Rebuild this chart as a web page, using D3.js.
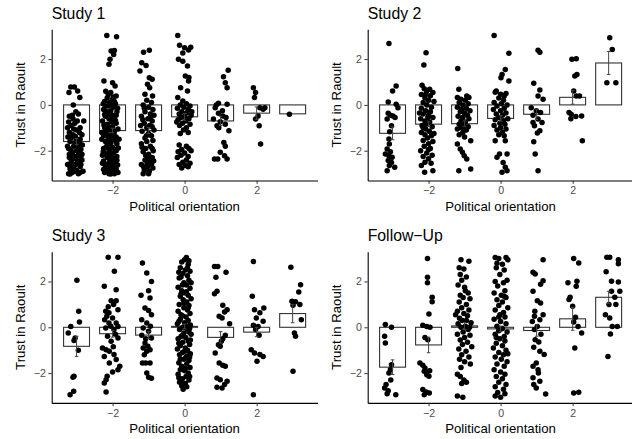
<!DOCTYPE html>
<html><head><meta charset="utf-8">
<script src="https://cdn.jsdelivr.net/npm/d3@7"></script>
<style>body{margin:0;background:#fff}svg{display:block}</style>
</head><body>
<svg id="chart" width="632" height="439"></svg>
<script>
// ---------- DATA ----------
const categories = [-3, -2, -1, 0, 1, 2, 3];
const panelTitles = ["Study 1", "Study 2", "Study 3", "Follow\u2212Up"];
const xTickValues = [-2, 0, 2];
const yTickValues = [-2, 0, 2];
const xAxisTitle = "Political orientation";
const yAxisTitle = "Trust in Raoult";

const study1Means = [-1.6, -1.12, -1.12, -0.52, -0.7, -0.36, -0.39];
const study1SE    = [0.13, 0.1, 0.13, 0.15, 0.2, 0.27, 0];
const study2Means = [-1.24, -0.84, -0.82, -0.59, -0.41, 0.33, 1.83];
const study2SE    = [0.28, 0.1, 0.12, 0.12, 0.22, 0.3, 0.5];
const study3Means = [-0.83, -0.28, -0.34, 0.04, -0.44, -0.21, 0.6];
const study3SE    = [0.44, 0.15, 0.15, 0.1, 0.25, 0.2, 0.4];
const followMeans = [-1.74, -0.77, 0.06, -0.07, -0.14, 0.37, 1.31];
const followSE    = [0.32, 0.34, 0.15, 0.12, 0.25, 0.5, 0.26];

// jittered points: [x (jittered), trust]
const study1Points = [
 [-3.16,0.78],[-3.06,0.78],[-3.21,0.54],[-2.97,0.61],[-2.91,0.32],[-3.09,0.0],
 [-3.2,-0.5],[-3.1,-0.6],[-2.95,-0.4],[-3.05,-0.8],[-3.15,-0.9],[-2.9,-1.0],[-3.0,-1.1],[-3.2,-1.2],[-3.1,-1.3],[-2.85,-1.3],[-3.0,-1.5],[-3.18,-1.6],[-2.92,-1.7],[-3.08,-1.8],[-3.22,-1.9],[-2.88,-1.95],[-3.0,-2.0],[-3.12,-2.1],[-2.95,-2.2],[-3.2,-2.3],[-3.05,-2.35],[-2.85,-2.4],[-3.15,-2.5],[-2.98,-2.55],[-3.25,-2.6],[-3.08,-2.7],[-2.9,-2.7],[-3.18,-2.8],[-3.0,-2.85],[-2.82,-2.9],[-3.12,-2.95],[-3.22,-3.0],[-2.95,-3.0],[-3.05,-2.9],[-2.88,-2.6],[-3.1,-2.2],[-2.9,-1.5],[-3.25,-1.0],[-2.8,-0.7],[-3.02,-0.3],[-3.15,-1.45],[-2.97,-2.45],[-3.2,-2.15],[-3.05,-1.65],[-2.85,-2.15],
 [-3.12,-0.45],[-2.98,-0.7],[-3.22,-0.75],[-2.92,-1.2],[-3.08,-1.05],[-3.24,-1.4],[-2.95,-1.85],[-3.15,-2.0],[-2.88,-2.25],[-3.02,-2.6],[-3.2,-2.65],[-2.9,-2.95],[-3.1,-2.85],[-3.0,-2.25],[-3.14,-2.4],[-2.84,-1.75],[-3.25,-1.8],[-3.03,-1.38],[-2.94,-2.05],[-3.18,-3.02],
 [-2.16,3.03],[-1.89,2.97],[-2.04,2.35],[-1.95,2.38],[-2.07,1.99],[-1.97,2.2],[-2.1,1.77],[-2.24,1.04],[-2.0,0.97],[-1.93,0.83],[-2.19,0.6],[-2.05,0.54],[-1.9,0.39],
 [-2.15,0.3],[-2.0,0.25],[-2.22,0.15],[-2.08,0.1],[-1.92,0.05],[-2.12,-0.05],[-1.98,-0.1],[-2.25,-0.2],[-2.05,-0.25],[-1.88,-0.3],[-2.15,-0.35],[-2.0,-0.45],[-2.2,-0.5],[-1.95,-0.55],[-2.1,-0.6],[-2.28,-0.7],[-2.03,-0.75],[-1.9,-0.8],[-2.15,-0.85],[-2.0,-0.95],[-2.22,-1.0],[-1.85,-1.05],[-2.08,-1.1],[-1.95,-1.15],[-2.18,-1.2],[-2.02,-1.3],[-2.25,-1.35],[-1.9,-1.4],[-2.12,-1.45],[-1.98,-1.5],[-2.2,-1.6],[-2.05,-1.65],[-1.88,-1.7],[-2.15,-1.75],[-2.0,-1.85],[-2.25,-1.9],[-1.93,-1.95],[-2.1,-2.0],[-1.98,-2.1],[-2.2,-2.15],[-2.05,-2.2],[-1.88,-2.25],[-2.15,-2.3],[-2.0,-2.4],[-2.25,-2.45],[-1.92,-2.5],[-2.1,-2.55],[-1.97,-2.6],[-2.2,-2.7],[-2.05,-2.75],[-1.9,-2.8],[-2.15,-2.85],[-2.0,-2.9],[-2.22,-2.95],[-2.1,-3.0],[-1.95,-3.0],[-1.85,-2.95],[-2.3,-1.2],[-2.28,-2.2],[-1.82,-1.5],[-2.08,-0.4],[-1.95,0.15],[-2.12,-1.55],[-2.03,-2.45],[-1.9,-2.0],[-2.18,-2.6],
 [-2.12,0.45],[-1.98,0.35],[-2.26,0.05],[-1.86,-0.15],[-2.18,-0.28],[-2.06,-0.62],[-1.92,-0.68],[-2.24,-0.88],[-2.1,-0.98],[-1.96,-1.25],[-2.14,-1.32],[-2.3,-1.5],[-2.04,-1.52],[-1.9,-1.62],[-2.18,-1.85],[-2.08,-1.92],[-1.84,-1.88],[-2.26,-2.05],[-2.12,-2.12],[-1.94,-2.32],[-2.08,-2.38],[-2.28,-2.55],[-2.02,-2.65],[-1.86,-2.62],[-2.14,-2.75],[-1.96,-2.85],[-2.25,-2.82],[-2.05,-3.02],[-2.2,-0.05],[-1.9,-0.45],[-2.0,-1.05],[-2.16,-1.08],[-1.88,-2.42],[-2.1,-1.7],[-2.22,-0.42],[-2.0,0.05],
 [-0.98,2.39],[-1.14,2.3],[-1.19,1.84],[-1.07,1.72],[-1.24,1.48],[-0.98,1.19],[-0.9,1.12],[-1.03,0.9],[-0.97,0.75],[-1.1,0.46],[-0.89,0.39],
 [-1.05,0.2],[-0.92,0.1],[-1.15,0.0],[-1.0,-0.1],[-0.88,-0.2],[-1.1,-0.3],[-0.95,-0.4],[-1.2,-0.5],[-1.02,-0.6],[-0.9,-0.7],[-1.12,-0.8],[-0.97,-0.9],[-1.05,-1.0],[-0.85,-1.1],[-1.18,-1.15],[-1.0,-1.25],[-0.92,-1.35],[-1.1,-1.45],[-0.88,-1.55],[-1.05,-1.6],[-1.2,-1.7],[-0.95,-1.8],[-1.08,-1.9],[-0.87,-2.0],[-1.15,-2.05],[-1.0,-2.15],[-0.9,-2.3],[-1.1,-2.4],[-0.95,-2.5],[-1.2,-2.6],[-1.03,-2.7],[-0.88,-2.75],[-1.12,-2.85],[-0.98,-2.9],[-1.15,-3.0],[-0.92,-2.6],[-1.22,-0.9],[-0.85,-0.45],[-1.08,-2.2],
 [-1.12,-0.15],[-0.95,-0.6],[-1.06,-1.35],[-0.9,-1.9],[-1.18,-1.85],[-1.02,-2.35],[-0.86,-2.45],[-1.14,-2.7],[-1.0,-3.0],[-0.9,-0.95],[-1.16,-0.65],[-1.04,-2.55],
 [-0.19,3.03],[-0.14,2.6],[0.0,2.5],[0.11,2.4],[-0.05,2.27],[0.17,2.52],[-0.17,1.99],[-0.05,1.91],[0.08,1.7],[0.02,1.26],[0.12,1.2],[0.11,1.04],[-0.11,0.75],[0.08,0.61],[-0.19,0.32],[-0.05,0.17],
 [0.05,0.05],[-0.12,0.0],[0.15,-0.05],[-0.02,-0.1],[-0.2,-0.15],[0.1,-0.2],[-0.08,-0.3],[0.05,-0.35],[-0.15,-0.4],[0.18,-0.45],[0.0,-0.5],[-0.1,-0.55],[0.12,-0.6],[-0.18,-0.65],[0.03,-0.7],[-0.06,-0.8],[0.15,-0.85],[-0.14,-0.9],[0.05,-1.0],[-0.03,-1.1],[0.1,-1.2],[-0.12,-1.25],[0.2,-0.3],[-0.22,-0.75],
 [-0.15,-1.75],[0.05,-1.8],[0.12,-1.9],[-0.08,-1.95],[0.18,-2.0],[-0.18,-2.05],[0.0,-2.1],[-0.1,-2.2],[0.1,-2.25],[-0.2,-2.3],[0.05,-2.4],[-0.05,-2.5],[0.15,-2.55],[-0.15,-2.6],[0.02,-2.65],[-0.08,-2.75],[0.1,-2.7],
 [1.21,1.51],[1.08,1.23],[1.13,0.97],[1.18,0.75],[0.94,0.07],[1.18,0.03],[0.85,-0.12],[0.94,-0.36],[1.06,-0.48],[0.8,-0.62],[0.99,-0.74],[1.13,-0.84],[0.9,-0.91],[1.23,-1.13],[1.09,-1.64],[1.13,-1.81],[0.83,-2.36],[0.92,-2.36],[1.11,-2.22],[1.18,-2.36],[0.99,-2.07],[0.88,0.0],[1.05,-0.25],[1.15,-0.55],[0.95,-1.0],
 [1.91,0.75],[1.97,0.54],[1.94,0.32],[2.09,-0.12],[2.18,-0.19],[2.23,-0.12],[2.04,-0.48],[1.97,-0.62],[2.07,-0.91],[2.11,-1.71],
 [2.91,-0.41]
];
const study2Points = [
 [-3.1,2.68],[-2.9,0.83],[-3.0,0.61],[-3.12,0.13],[-2.9,0.03],[-2.85,-0.12],[-3.12,-0.36],[-3.06,-0.45],[-2.99,-0.48],[-2.93,-0.55],[-3.15,-0.62],[-3.03,-0.91],[-3.08,-1.17],[-3.1,-1.49],[-3.09,-1.71],[-3.15,-1.93],[-3.06,-2.04],[-3.2,-2.14],[-3.1,-2.22],[-3.01,-2.29],[-3.12,-2.43],[-3.03,-2.51],[-3.09,-2.65],[-3.15,-2.87],[-2.94,-2.72],
 [-2.07,2.28],[-2.13,1.74],[-2.18,0.86],[-1.97,0.68],[-1.88,0.54],
 [-2.12,0.7],[-2.05,0.6],[-2.2,0.45],[-1.95,0.4],[-2.1,0.3],[-2.0,0.2],[-1.85,0.15],[-2.15,0.1],[-2.05,0.0],[-1.92,-0.1],[-2.2,-0.15],[-2.08,-0.25],[-1.95,-0.3],[-2.15,-0.4],[-2.0,-0.45],[-1.88,-0.55],[-2.22,-0.6],[-2.1,-0.7],[-1.97,-0.75],[-2.05,-0.85],[-2.18,-0.9],[-1.9,-0.95],[-2.08,-1.05],[-1.98,-1.15],[-2.2,-1.2],[-2.1,-1.3],[-1.92,-1.35],[-2.03,-1.45],[-2.15,-1.55],[-1.88,-1.6],[-2.0,-1.7],[-2.12,-1.8],[-1.95,-1.9],[-2.22,-2.0],[-2.05,-2.1],[-1.9,-2.2],[-2.15,-2.25],[-2.0,-2.35],[-2.1,-2.5],[-1.93,-2.55],[-2.2,-2.65],[-2.11,-2.94],[-1.88,-2.87],[-2.02,-0.55],[-2.15,-1.0],[-1.85,-1.25],[-2.25,-0.35],[-2.0,-1.95],[-2.08,0.45],
 [-1.19,1.59],[-1.16,0.68],[-0.94,0.39],[-0.88,0.32],[-1.2,0.32],
 [-1.1,0.25],[-0.98,0.2],[-1.15,0.1],[-0.9,0.05],[-1.05,0.0],[-1.2,-0.1],[-0.95,-0.15],[-1.08,-0.2],[-0.85,-0.25],[-1.12,-0.3],[-1.0,-0.35],[-0.92,-0.45],[-1.18,-0.5],[-1.05,-0.55],[-0.88,-0.6],[-1.1,-0.7],[-0.98,-0.75],[-1.15,-0.85],[-1.02,-0.9],[-0.9,-0.95],[-1.08,-1.0],[-1.2,-1.05],[-0.95,-1.1],[-1.05,-1.2],[-1.15,-1.3],[-1.0,-1.4],
 [-0.83,-1.57],[-1.2,-1.71],[-1.12,-1.93],[-1.06,-2.07],[-1.01,-2.22],[-0.94,-2.36],[-1.16,-2.87],[-0.83,-2.8],
 [-0.18,3.03],[0.23,2.25],[0.13,1.55],[0.04,1.33],[0.01,1.19],[0.23,1.04],[-0.12,0.61],[0.0,0.46],[0.1,0.39],
 [-0.15,0.55],[0.15,0.5],[-0.05,0.3],[0.08,0.2],[-0.18,0.1],[0.02,0.05],[0.18,0.0],[-0.1,-0.05],[0.1,-0.15],[-0.2,-0.2],[0.0,-0.25],[0.15,-0.35],[-0.12,-0.4],[0.05,-0.45],[-0.05,-0.55],[0.2,-0.6],[-0.15,-0.65],[0.08,-0.7],[-0.02,-0.8],[0.12,-0.85],[-0.18,-0.9],[0.0,-1.0],[0.15,-1.05],[-0.1,-1.1],[0.05,-1.2],[-0.05,-1.3],[0.1,-1.35],
 [-0.15,-1.57],[0.13,-1.57],[-0.03,-2.14],[-0.1,-2.29],[0.18,-2.14],[0.07,-2.51],[0.13,-2.72],[0.04,-2.94],[0.18,-2.87],
 [1.04,2.39],[1.09,2.3],[0.92,0.94],[1.09,0.65],[1.04,0.39],[1.18,0.25],[0.85,-0.12],[0.99,-0.26],[1.11,-0.33],[0.9,-0.45],[1.04,-0.62],[1.15,-0.77],[0.94,-0.91],[1.09,-1.13],[1.02,-1.23],[0.9,-0.77],[0.92,-1.61],[0.96,-2.14],[1.04,-2.87],
 [1.98,1.99],[2.1,2.01],[2.06,1.26],[2.12,1.33],[2.03,0.61],[2.1,0.39],[2.19,0.39],[1.9,-0.33],[1.96,-0.41],[2.09,-0.51],[2.25,-0.48],[2.27,-1.57],[1.95,-0.6],
 [3.03,2.93],[3.1,2.42],[2.95,0.97],[3.2,0.97]
];
const study3Points = [
 [-2.99,2.05],[-2.94,0.7],[-2.92,0.23],[-3.16,0.04],[-3.23,-0.25],[-3.04,-0.47],[-3.07,-0.58],[-2.95,-1.0],[-3.07,-2.14],[-3.1,-2.18],[-3.08,-2.79],[-3.18,-2.94],
 [-2.12,3.06],[-1.85,3.06],[-1.95,2.45],[-2.23,1.79],[-1.9,1.64],[-2.04,1.16],[-1.9,1.16],[-1.97,0.99],[-1.85,0.77],[-2.19,0.7],[-2.1,0.63],[-2.16,0.48],[-2.0,0.41],[-2.22,0.33],[-2.1,0.19],[-1.9,0.19],[-1.85,0.04],[-2.19,-0.03],[-1.96,-0.1],[-2.14,-0.39],[-1.85,-0.47],[-2.04,-0.61],[-2.28,-0.9],[-2.18,-0.98],[-2.09,-1.05],[-2.23,-1.27],[-1.96,-1.19],[-1.9,-1.41],[-2.09,-1.56],[-1.8,-1.7],[-1.85,-1.85],[-2.15,-2.14],[-2.18,-2.29],[-2.23,-2.43],[-2.18,-2.82],[-2.05,0.05],[-1.92,-0.3],[-2.12,0.9],[-1.98,-0.85],[-2.0,-1.95],
 [-1.17,2.81],[-1.05,2.37],[-0.92,2.0],[-1.0,1.6],[-1.21,1.4],[-0.96,1.28],[-1.1,0.84],[-1.0,0.73],[-0.92,0.55],[-1.19,0.33],[-1.05,0.19],[-1.15,-0.03],[-1.0,-0.17],[-1.19,-0.35],[-0.92,-0.47],[-1.1,-0.68],[-1.02,-0.83],[-1.15,-0.9],[-0.96,-0.98],[-1.05,-1.05],[-1.17,-1.56],[-1.08,-1.56],[-0.96,-1.56],[-1.05,-2.0],[-1.0,-2.18],[-0.92,-2.22],[-1.08,-0.5],[-0.95,0.05],[-1.12,-1.2],
 [0.05,3.05],[0.0,2.95],[-0.08,2.85],[0.1,2.75],[-0.12,2.6],[0.02,2.5],[0.15,2.45],[-0.05,2.35],[0.08,2.25],[-0.15,2.15],[0.12,2.05],[-0.02,1.95],[0.05,1.85],[-0.18,1.75],[0.15,1.7],[-0.08,1.6],[0.02,1.5],[0.1,1.4],[-0.12,1.35],[0.18,1.25],[-0.04,1.2],[0.06,1.1],[-0.15,1.0],[0.12,0.95],[-0.02,0.85],[0.08,0.75],[-0.18,0.7],[0.15,0.6],[-0.06,0.5],[0.04,0.45],[-0.12,0.35],[0.1,0.3],[0.0,0.2],[-0.2,0.15],[0.16,0.1],[-0.05,0.0],[0.06,-0.05],[-0.14,-0.1],[0.12,-0.2],[-0.02,-0.25],[0.18,-0.3],[-0.1,-0.4],[0.03,-0.45],[-0.18,-0.5],[0.1,-0.6],[-0.05,-0.65],[0.14,-0.75],[-0.12,-0.8],[0.02,-0.9],[-0.2,-0.95],[0.08,-1.0],[-0.06,-1.1],[0.16,-1.15],[-0.14,-1.2],[0.04,-1.3],[-0.02,-1.4],[0.12,-1.45],[-0.16,-1.55],[0.06,-1.6],[-0.08,-1.7],[0.15,-1.75],[-0.12,-1.85],[0.0,-1.9],[0.1,-2.0],[-0.18,-2.05],[0.04,-2.15],[-0.06,-2.25],[0.12,-2.3],[-0.14,-2.4],[0.02,-2.45],[-0.08,-2.55],[-0.04,-2.7],[0.08,-1.25],[-0.1,0.55],[0.05,1.55],[-0.1,2.2],
 [0.12,2.9],[-0.16,2.4],[0.18,1.95],[-0.1,1.45],[0.1,0.85],[-0.16,0.25],[0.14,-0.05],[-0.06,-0.35],[0.16,-0.55],[-0.16,-0.7],[0.0,-1.05],[-0.12,-1.4],[0.14,-1.3],[0.02,-1.8],[-0.16,-2.2],[0.14,-2.15],[0.06,-2.6],[-0.1,-2.35],[0.08,0.05],[-0.02,1.05],[0.08,2.6],[-0.06,1.85],
 [0.83,2.65],[0.92,2.65],[1.15,2.4],[0.87,2.18],[0.9,1.57],[0.83,1.46],[1.06,0.96],[1.18,0.77],[1.11,0.67],[0.96,0.48],[1.04,0.41],[1.25,0.15],[1.13,-0.35],[1.06,-0.5],[1.02,-0.61],[0.94,-0.76],[0.99,-0.83],[0.85,-1.12],[0.96,-1.56],[1.06,-1.66],[1.13,-1.7],[0.9,-2.21],[0.99,-2.29],[1.18,-2.36],[1.11,-2.5],[0.9,-2.62],[1.04,-2.65],
 [1.91,2.87],[1.88,1.35],[1.94,0.77],[2.2,0.84],[2.09,0.63],[1.99,0.41],[2.18,0.26],[1.91,0.09],[2.04,0.04],[1.97,-0.1],[2.07,-0.35],[1.85,-0.98],[1.94,-1.12],[2.09,-1.19],[2.18,-1.27],[2.01,-1.48],[1.91,-2.94],
 [2.95,2.62],[3.22,1.86],[3.17,1.54],[2.98,1.14],[3.08,1.11],[3.01,0.96],[3.24,0.33],[3.05,-0.25],[3.08,-0.39],[3.01,-1.92],[3.2,1.0]
];
const followPoints = [
 [-3.2,0.12],[-3.03,0.0],[-3.22,-0.39],[-3.2,-0.68],[-3.03,-1.63],[-3.06,-1.85],[-3.1,-2.0],[-3.05,-2.3],[-3.18,-2.5],[-3.22,-2.65],[-3.12,-2.77],[-2.91,-2.94],[-3.15,-2.9],
 [-2.03,3.0],[-2.03,2.18],[-2.03,1.94],[-1.9,1.31],[-1.9,1.11],[-1.99,0.58],[-2.16,0.09],[-2.05,0.04],[-1.96,0.0],[-2.1,-0.44],[-2.02,-0.54],[-2.24,-1.56],[-2.16,-1.66],[-2.1,-1.78],[-2.12,-1.92],[-2.05,-2.07],[-1.99,-2.14],[-2.16,-2.72],[-2.07,-2.82],[-1.98,-2.87],[-2.12,-2.94],[-1.97,-1.9],
 [-1.1,2.95],[-0.88,2.88],[-1.15,2.6],[-1.02,2.55],[-1.12,2.3],[-0.95,2.2],[-1.08,2.05],[-1.18,1.85],[-1.0,1.75],[-0.9,1.5],[-1.12,1.4],[-1.04,1.3],[-0.85,1.25],[-1.15,1.1],[-0.95,1.0],[-1.08,0.85],[-0.88,0.75],[-1.2,0.7],[-1.02,0.6],[-0.92,0.5],[-1.14,0.4],[-1.06,0.3],[-0.82,0.2],[-1.18,0.15],[-0.98,0.05],[-1.1,0.0],[-0.9,-0.1],[-1.04,-0.2],[-1.2,-0.3],[-0.85,-0.35],[-1.0,-0.45],[-1.12,-0.55],[-0.92,-0.65],[-1.06,-0.75],[-0.8,-0.85],[-1.16,-0.95],[-0.96,-1.05],[-1.08,-1.2],[-0.88,-1.3],[-1.14,-1.4],[-1.0,-1.5],[-0.84,-1.6],[-1.1,-1.75],[-1.2,-2.05],[-1.12,-2.15],[-1.02,-2.3],[-0.95,-2.4],[-1.08,-2.45],[-1.2,-3.0],[-1.05,-3.05],[-0.95,0.3],[-1.25,0.55],[-0.86,0.0],[-0.98,1.6],
 [-0.15,3.05],[-0.05,3.0],[0.15,3.05],[0.2,2.95],[-0.1,2.8],[0.05,2.75],[-0.12,2.6],[0.1,2.5],[-0.02,2.3],[0.18,2.05],[-0.15,2.0],[0.08,1.95],[-0.08,1.8],[0.12,1.6],[-0.18,1.5],[0.02,1.4],[0.15,1.3],[-0.1,1.2],[0.05,1.1],[-0.05,0.95],[0.2,0.85],[-0.15,0.75],[0.08,0.65],[-0.02,0.55],[0.12,0.45],[-0.18,0.35],[0.0,0.25],[0.15,0.15],[-0.1,0.05],[0.05,-0.05],[-0.05,-0.15],[0.18,-0.2],[-0.15,-0.3],[0.1,-0.4],[-0.02,-0.5],[0.12,-0.6],[-0.12,-0.7],[0.05,-0.8],[-0.2,-0.9],[0.15,-1.0],[-0.05,-1.1],[0.08,-1.2],[-0.15,-1.3],[0.02,-1.4],[0.18,-1.5],[-0.1,-1.6],[0.1,-1.7],[-0.18,-1.85],[0.0,-1.95],[0.12,-2.05],[-0.12,-2.15],[0.05,-2.25],[-0.05,-2.4],[0.15,-2.5],[-0.15,-2.6],[0.08,-2.7],[-0.08,-2.85],[-0.15,-3.0],[0.0,-3.05],[0.12,-2.9],[-0.05,0.45],[0.1,1.35],[-0.12,-0.45],[0.2,-1.15],
 [1.18,2.95],[0.9,2.4],[0.96,2.33],[1.18,2.03],[1.11,1.88],[0.9,1.57],[1.02,1.16],[1.11,1.06],[0.94,0.48],[1.18,0.55],[1.09,0.33],[1.02,0.04],[0.94,-0.1],[0.96,-0.54],[1.06,-0.64],[0.92,-0.87],[1.09,-1.05],[1.21,-1.19],[0.99,-1.56],[0.9,-1.7],[1.04,-1.85],[1.09,-2.36],[0.92,-2.5],[0.99,-2.65],[1.25,-2.91],[0.88,0.25],[1.12,-0.3],[0.95,0.7],[1.05,-2.0],[0.9,-2.2],
 [2.03,3.0],[2.17,2.81],[1.87,1.94],[2.12,2.01],[2.1,1.79],[1.93,1.31],[1.9,1.21],[2.0,0.92],[2.08,0.44],[2.03,0.23],[2.15,0.04],[2.25,-0.25],[2.06,-0.9],[2.03,-2.87],[2.17,-2.83],
 [2.95,3.06],[3.03,3.06],[3.27,2.95],[3.27,2.77],[2.93,2.42],[3.08,2.01],[3.27,1.98],[3.08,1.57],[3.31,1.57],[3.17,1.31],[3.01,0.99],[2.91,0.55],[3.03,0.41],[3.1,0.04],[3.24,0.04],[3.05,-0.29],[2.98,-1.27],[3.2,1.0]
];

// ---------- DRAW ----------
const panels = [
  {title: panelTitles[0], means: study1Means, se: study1SE, pts: study1Points, col: 0, row: 0},
  {title: panelTitles[1], means: study2Means, se: study2SE, pts: study2Points, col: 1, row: 0},
  {title: panelTitles[2], means: study3Means, se: study3SE, pts: study3Points, col: 0, row: 1},
  {title: panelTitles[3], means: followMeans, se: followSE, pts: followPoints, col: 1, row: 1}
];
const FONT = "'Liberation Sans', Arial, Helvetica, sans-serif";
const svg = d3.select("#chart");
const fmt = d => d < 0 ? "\u2212" + Math.abs(d) : String(d);
const barW = 0.72, capW = 0.1;

panels.forEach(p => {
  const ox = p.col * 316, oy = p.row * 222.4;
  const x = d3.scaleLinear().domain([-3.69, 3.69]).range([51.7 + ox, 317.5 + ox]);
  const y = d3.scaleLinear().domain([-3.3, 3.3]).range([180.5 + oy, 29.3 + oy]);
  const g = svg.append("g");

  const rows = categories.map((c, i) => ({c, m: p.means[i], se: p.se[i]}));

  g.selectAll("rect.bar").data(rows).enter().append("rect")
    .attr("x", d => x(d.c - barW / 2))
    .attr("width", d => x(d.c + barW / 2) - x(d.c - barW / 2))
    .attr("y", d => Math.min(y(d.m), y(0)))
    .attr("height", d => Math.abs(y(d.m) - y(0)))
    .attr("fill", "#fff").attr("stroke", "#333").attr("stroke-width", 1.1);

  g.selectAll("circle").data(p.pts).enter().append("circle")
    .attr("cx", d => x(d[0])).attr("cy", d => y(d[1])).attr("r", 2.75)
    .attr("fill", "#000");

  const eb = rows.filter(d => d.se > 0);
  g.selectAll("path.err").data(eb).enter().append("path")
    .attr("d", d => {
      const pa = d3.path();
      const x0 = x(d.c - capW / 2), x1 = x(d.c + capW / 2), xc = x(d.c);
      const yt = y(d.m + d.se), yb = y(d.m - d.se);
      pa.moveTo(x0, yt); pa.lineTo(x1, yt);
      pa.moveTo(xc, yt); pa.lineTo(xc, yb);
      pa.moveTo(x0, yb); pa.lineTo(x1, yb);
      return pa.toString();
    })
    .attr("fill", "none").attr("stroke", "#444").attr("stroke-width", 1);

  const ax = g.append("g").attr("transform", `translate(0,${y.range()[0]})`)
    .call(d3.axisBottom(x).tickValues(xTickValues).tickFormat(fmt).tickSize(3.3).tickSizeOuter(0).tickPadding(3));
  const ay = g.append("g").attr("transform", `translate(${x.range()[0]},0)`)
    .call(d3.axisLeft(y).tickValues(yTickValues).tickFormat(fmt).tickSize(3.3).tickSizeOuter(0).tickPadding(2.5));
  [ax, ay].forEach(a => {
    a.select(".domain").attr("stroke", "#000").attr("stroke-width", 1.1);
    a.selectAll(".tick line").attr("stroke", "#333").attr("stroke-width", 1);
    a.selectAll(".tick text").attr("fill", "#4d4d4d").style("font-family", FONT).style("font-size", "10.6px");
  });

  g.append("text").attr("x", 51.7 + ox).attr("y", 18.5 + oy)
    .style("font-family", FONT).style("font-size", "15.8px").attr("fill", "#000").text(p.title);
  g.append("text").attr("x", (x.range()[0] + x.range()[1]) / 2).attr("y", 210.8 + oy)
    .attr("text-anchor", "middle").style("font-family", FONT).style("font-size", "13.2px").attr("fill", "#000").text(xAxisTitle);
  g.append("text").attr("transform", `translate(${24.8 + ox},${(y.range()[0] + y.range()[1]) / 2}) rotate(-90)`)
    .attr("text-anchor", "middle").style("font-family", FONT).style("font-size", "13.2px").attr("fill", "#000").text(yAxisTitle);
});
</script>
</body></html>
